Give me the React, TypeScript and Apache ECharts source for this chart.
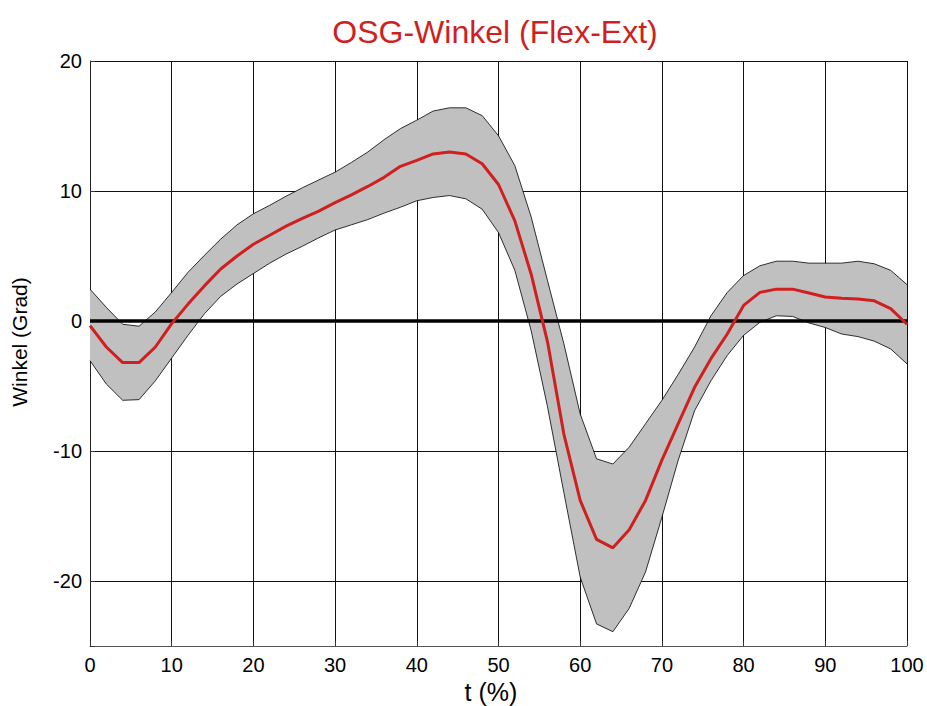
import React, { useEffect, useRef } from "react";
import * as echarts from "echarts";

const tPct: number[] = [
  0, 2, 4, 6, 8, 10, 12, 14, 16, 18, 20, 22, 24, 26, 28, 30, 32, 34, 36, 38, 40,
  42, 44, 46, 48, 50, 52, 54, 56, 58, 60, 62, 64, 66, 68, 70, 72, 74, 76, 78, 80,
  82, 84, 86, 88, 90, 92, 94, 96, 98, 100,
];

const meanAngle: number[] = [
  -0.35, -2.0, -3.2, -3.2, -2.0, -0.2, 1.3, 2.7, 4.0, 5.0, 5.9, 6.6, 7.3, 7.9,
  8.45, 9.1, 9.7, 10.35, 11.05, 11.9, 12.35, 12.85, 13.0, 12.85, 12.1, 10.5, 7.7,
  3.6, -1.6, -8.7, -13.8, -16.8, -17.45, -16.05, -13.8, -10.7, -7.9, -5.1, -2.9,
  -1.0, 1.2, 2.2, 2.45, 2.45, 2.15, 1.85, 1.75, 1.7, 1.55, 0.95, -0.25,
];

const upperAngle: number[] = [
  2.45, 1.05, -0.25, -0.4, 0.7, 2.2, 3.75, 5.05, 6.3, 7.4, 8.25, 8.9, 9.6, 10.25,
  10.85, 11.45, 12.2, 13.0, 13.95, 14.8, 15.45, 16.15, 16.4, 16.4, 15.8, 14.25,
  11.95, 8.0, 3.1, -1.75, -7.15, -10.6, -11.0, -9.7, -7.9, -6.1, -4.1, -2.0, 0.4,
  2.2, 3.5, 4.25, 4.6, 4.6, 4.45, 4.45, 4.45, 4.6, 4.4, 3.9, 2.8,
];

const lowerAngle: number[] = [
  -3.05, -4.85, -6.1, -6.05, -4.6, -2.85, -1.1, 0.55, 1.9, 2.85, 3.65, 4.45, 5.15,
  5.75, 6.4, 7.0, 7.4, 7.8, 8.3, 8.75, 9.25, 9.5, 9.65, 9.4, 8.6, 6.8, 3.9, -0.75,
  -6.6, -13.2, -19.7, -23.3, -23.9, -22.1, -19.3, -15.1, -10.7, -6.9, -4.6,
  -2.65, -1.1, -0.1, 0.4, 0.35, -0.15, -0.5, -1.0, -1.2, -1.55, -2.15, -3.3,
];

const xTicks = { min: 0, max: 100, step: 10 };
const yRange = { min: -25, max: 20, labelStep: 10 };
const zeroLine: number[][] = [
  [0, 0],
  [100, 0],
];

const titleText = "OSG-Winkel (Flex-Ext)";
const xName = "t (%)";
const yName = "Winkel (Grad)";

const FONT = "'Liberation Sans', Arial, Helvetica, sans-serif";

export default function App() {
  const ref = useRef<HTMLDivElement>(null);

  useEffect(() => {
    if (!ref.current) return;
    const chart = echarts.init(ref.current, null, { renderer: "svg" });

    const pairs = (vals: number[]) => tPct.map((t, i) => [t, vals[i]]);

    chart.setOption({
      animation: false,
      backgroundColor: "#ffffff",
      grid: { left: 90, right: 20, top: 61, bottom: 60, containLabel: false },
      xAxis: {
        type: "value",
        min: xTicks.min,
        max: xTicks.max,
        interval: xTicks.step,
        axisLine: { show: true, onZero: false, lineStyle: { color: "#555", width: 1 } },
        axisTick: { show: true, inside: true, length: 5, lineStyle: { color: "#333" } },
        axisLabel: { fontSize: 20, color: "#000", margin: 9, fontFamily: FONT },
        splitLine: { show: true, lineStyle: { color: "#111", width: 1 } },
      },
      yAxis: {
        type: "value",
        min: yRange.min,
        max: yRange.max,
        splitNumber: 5,
        minInterval: yRange.labelStep,
        maxInterval: yRange.labelStep,
        axisLine: { show: true, onZero: false, lineStyle: { color: "#222", width: 1 } },
        axisTick: { show: true, inside: true, length: 5, lineStyle: { color: "#333" } },
        axisLabel: {
          fontSize: 20,
          color: "#000",
          margin: 8,
          fontFamily: FONT,
          formatter: (v: number) => (v % yRange.labelStep === 0 ? String(v) : ""),
        },
        splitLine: { show: true, lineStyle: { color: "#111", width: 1 } },
      },
      graphic: [
        {
          type: "text",
          x: 495,
          y: 32,
          style: {
            text: titleText,
            fill: "#d01f1f",
            fontSize: 32,
            fontFamily: FONT,
            align: "center",
            verticalAlign: "middle",
          },
        },
        {
          type: "text",
          x: 491,
          y: 692,
          style: {
            text: xName,
            fill: "#000",
            fontSize: 25,
            fontFamily: FONT,
            align: "center",
            verticalAlign: "middle",
          },
        },
        {
          type: "text",
          x: 19,
          y: 342,
          rotation: Math.PI / 2,
          style: {
            text: yName,
            fill: "#000",
            fontSize: 21,
            fontFamily: FONT,
            align: "center",
            verticalAlign: "middle",
          },
        },
      ],
      series: [
        {
          name: "band",
          type: "custom",
          data: [[0, 0]],
          silent: true,
          z: 2,
          renderItem: (params: any, api: any) => {
            const pts: number[][] = [];
            for (let i = 0; i < tPct.length; i++) {
              pts.push(api.coord([tPct[i], upperAngle[i]]));
            }
            for (let i = tPct.length - 1; i >= 0; i--) {
              pts.push(api.coord([tPct[i], lowerAngle[i]]));
            }
            return {
              type: "polygon",
              shape: { points: pts },
              style: { fill: "#c0c0c0", stroke: "none" },
            };
          },
        },
        {
          name: "upper",
          type: "line",
          data: pairs(upperAngle),
          symbol: "none",
          silent: true,
          lineStyle: { color: "#000", width: 0.8 },
          z: 3,
        },
        {
          name: "lower",
          type: "line",
          data: pairs(lowerAngle),
          symbol: "none",
          silent: true,
          lineStyle: { color: "#000", width: 0.8 },
          z: 3,
        },
        {
          name: "zero",
          type: "line",
          data: zeroLine,
          symbol: "none",
          silent: true,
          lineStyle: { color: "#000", width: 3.5 },
          z: 4,
        },
        {
          name: "mean",
          type: "line",
          data: pairs(meanAngle),
          symbol: "none",
          silent: true,
          lineStyle: { color: "#d01f1f", width: 3 },
          z: 5,
        },
      ],
    });

    return () => chart.dispose();
  }, []);

  return (
    <div
      ref={ref}
      style={{ position: "absolute", left: 0, top: 0, width: 927, height: 706 }}
    />
  );
}
